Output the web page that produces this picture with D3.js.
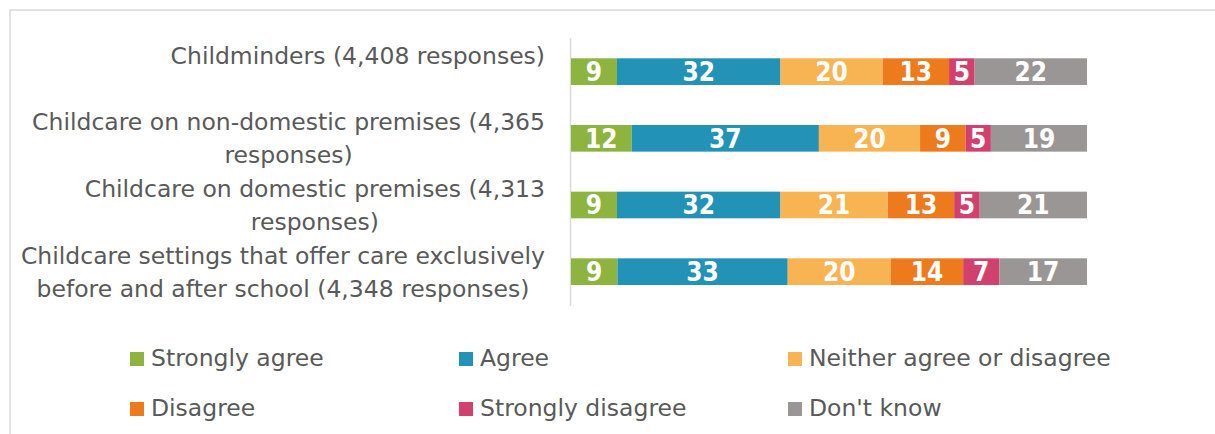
<!DOCTYPE html>
<html>
<head>
<meta charset="utf-8">
<script src="https://cdn.jsdelivr.net/npm/d3@7"></script>
<style>
  html, body { margin: 0; padding: 0; background: #ffffff; }
  svg { display: block; }
</style>
</head>
<body>
<svg id="chart" width="1215" height="434"></svg>
<script>
// Survey answer categories (stack order, left to right)
const seriesNames = ["Strongly agree", "Agree", "Neither agree or disagree", "Disagree", "Strongly disagree", "Don't know"];
const seriesColors = ["#8db43e", "#2292b6", "#f8b452", "#ee7a1e", "#d2416e", "#9b9696"];

// Provider types, each label split into its drawn lines
const categories = ["Childminders", "Non-domestic", "Domestic", "Before/after school"];
const categoryLines = [
  ["Childminders (4,408 responses)", ""],
  ["Childcare on non-domestic premises (4,365", "responses)"],
  ["Childcare on domestic premises (4,313", "responses)"],
  ["Childcare settings that offer care exclusively", "before and after school (4,348 responses)"]
];

// Percentage of responses per answer, one array per answer
const stronglyAgree    = [9, 12, 9, 9];
const agree            = [32, 37, 32, 33];
const neither          = [20, 20, 21, 20];
const disagree         = [13, 9, 13, 14];
const stronglyDisagree = [5, 5, 5, 7];
const dontKnow         = [22, 19, 21, 17];

const seriesValues = [stronglyAgree, agree, neither, disagree, stronglyDisagree, dontKnow];

const svg = d3.select("#chart");
const textColor = "#595959";
const fontFamily = "'DejaVu Sans', Verdana, sans-serif";
const boldFamily = "'DejaVu Sans Condensed', 'DejaVu Sans', sans-serif";

// outer frame of the chart area
svg.append("rect")
  .attr("x", 10).attr("y", 10)
  .attr("width", 1260).attr("height", 460)
  .attr("fill", "none")
  .attr("stroke", "#d9d9d9")
  .attr("stroke-width", 1.5);

const plot = { left: 571, right: 1087, top: 38.3, bottom: 305 };

// rows of the table used by the stack layout
const rows = categories.map((c, i) => {
  const r = { category: c };
  seriesNames.forEach((s, j) => { r[s] = seriesValues[j][i]; });
  return r;
});

// 100% stacking: each row is normalised by its own total
const stacked = d3.stack().keys(seriesNames).offset(d3.stackOffsetExpand)(rows);

const x = d3.scaleLinear().domain([0, 1]).range([plot.left, plot.right]);
const y = d3.scaleBand().domain(categories).range([plot.top, plot.bottom])
  .paddingInner(0.6).paddingOuter(0.3);

// category axis line
svg.append("line")
  .attr("x1", 570.5).attr("x2", 570.5)
  .attr("y1", plot.top).attr("y2", plot.bottom + 1)
  .attr("stroke", "#d9d9d9").attr("stroke-width", 1.5);

// bars
const groups = svg.selectAll("g.series")
  .data(stacked)
  .join("g")
  .attr("class", "series")
  .attr("fill", (d, i) => seriesColors[i]);

groups.selectAll("rect")
  .data(d => d.map(p => ({ p, key: d.key })))
  .join("rect")
  .attr("x", d => x(d.p[0]))
  .attr("y", d => y(d.p.data.category))
  .attr("width", d => x(d.p[1]) - x(d.p[0]))
  .attr("height", y.bandwidth());

// value labels inside segments
groups.selectAll("text")
  .data(d => d.map(p => ({ p, key: d.key })))
  .join("text")
  .attr("x", d => (x(d.p[0]) + x(d.p[1])) / 2)
  .attr("y", d => y(d.p.data.category) + y.bandwidth() / 2)
  .attr("dy", "0.36em")
  .attr("text-anchor", "middle")
  .attr("fill", "#ffffff")
  .attr("font-family", boldFamily)
  .attr("font-weight", "bold")
  .attr("font-size", 26)
  .text(d => d.p.data[d.key]);

// category labels: right aligned block, lines centred inside it
const labelRight = 545;
const lineHeight = 33;
categories.forEach((c, i) => {
  const lines = categoryLines[i];
  const t = svg.append("text")
    .attr("font-family", fontFamily)
    .attr("font-size", 23.5)
    .attr("fill", textColor)
    .attr("text-anchor", "middle");
  const cy = y(c) + y.bandwidth() / 2;
  const n = lines.length;
  lines.forEach((ln, k) => {
    t.append("tspan")
      .attr("y", cy + (k - (n - 1) / 2) * lineHeight)
      .attr("dy", "0.36em")
      .text(ln);
  });
  // measure widest line to place the block against the right edge
  let maxW = 0;
  t.selectAll("tspan").each(function () {
    maxW = Math.max(maxW, this.getComputedTextLength());
  });
  t.selectAll("tspan").attr("x", labelRight - maxW / 2);
});

// legend
const legendCols = [130, 459, 788];
const legendRows = [358, 408];
const legend = svg.selectAll("g.legend")
  .data(seriesNames)
  .join("g")
  .attr("class", "legend")
  .attr("transform", (d, i) => `translate(${legendCols[i % 3]},${legendRows[Math.floor(i / 3)]})`);

legend.append("rect")
  .attr("x", 0).attr("y", -6)
  .attr("width", 14).attr("height", 14)
  .attr("fill", (d, i) => seriesColors[i]);

legend.append("text")
  .attr("x", 21)
  .attr("y", 0)
  .attr("dy", "0.36em")
  .attr("font-family", fontFamily)
  .attr("font-size", 23.5)
  .attr("fill", textColor)
  .text(d => d);
</script>
</body>
</html>
